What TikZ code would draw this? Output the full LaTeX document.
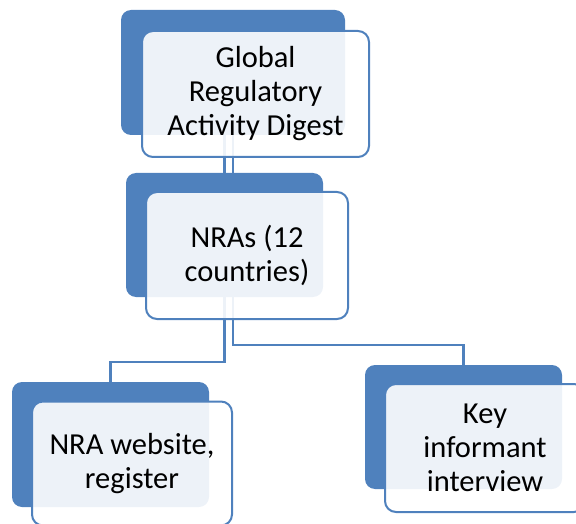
\documentclass[tikz,border=0pt]{standalone}
\usepackage{fontspec}
\setmainfont{Carlito}
\usetikzlibrary{calc}
\definecolor{accent}{HTML}{4F81BD}
\pgfdeclarelayer{background}
\pgfsetlayers{background,main}
\begin{document}
\begin{tikzpicture}[x=1pt,y=-1pt,
  backbox/.style={draw=none,fill=accent,rounded corners=10pt,inner sep=0pt,outer sep=0pt},
  frontbox/.style={draw=accent,line width=2pt,fill=white,fill opacity=0.9,text opacity=1,rounded corners=11pt,inner sep=0pt,outer sep=0pt,
    align=center,font=\fontsize{30.5}{34}\selectfont},
  conn/.style={draw=accent,line width=2.2pt}]
\useasboundingbox (0,0) rectangle (576,524);
% back boxes
\node[backbox,minimum width=224pt,minimum height=125pt] (gB) at (233,72.5) {};
\node[backbox,minimum width=197pt,minimum height=124pt] (nB) at (224.5,235) {};
\node[backbox,minimum width=197pt,minimum height=125pt] (lB) at (110.5,444.5) {};
\node[backbox,minimum width=197pt,minimum height=124pt] (rB) at (463.5,427) {};
% bend points
\coordinate (lbend) at (0,362);
\coordinate (rbend) at (0,345);
% connectors (behind the boxes)
\begin{pgfonlayer}{background}
\draw[conn] (gB.south -| nB.north) -- (nB.north);
\draw[conn] (gB.south) -- (gB.south |- nB.north);
\draw[conn] (nB.south) -- (nB.south |- lbend) -| (lB.north);
\draw[conn] (nB.south -| gB.south) -- (gB.south |- rbend) -| (rB.north);
\end{pgfonlayer}
% front boxes
\node[frontbox,minimum width=227pt,minimum height=126pt] (g) at (255.5,94) {Global\\Regulatory\\Activity Digest};
\node[frontbox,minimum width=202pt,minimum height=127pt] (n) at (247,255.5) {NRAs (12\\countries)};
\node[frontbox,minimum width=200pt,minimum height=124pt] (l) at (132,463.5) {NRA website,\\register};
\node[frontbox,minimum width=200pt,minimum height=128pt] (r) at (485,448) {Key\\informant\\interview};
\end{tikzpicture}
\end{document}
